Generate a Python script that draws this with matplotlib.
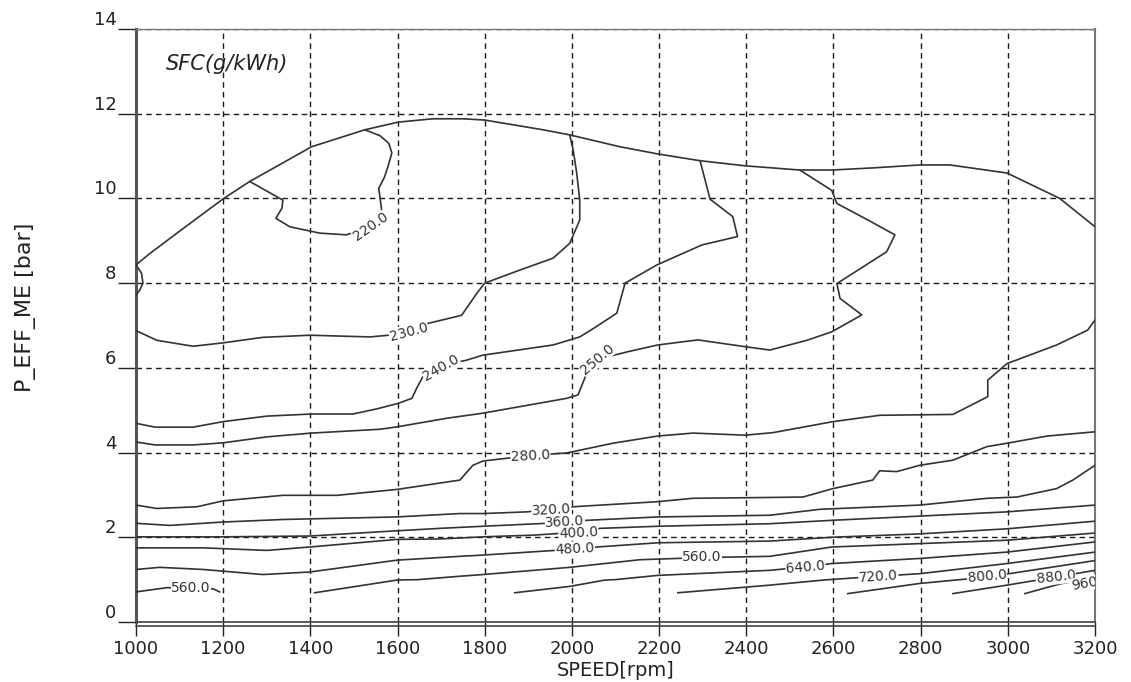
import matplotlib.pyplot as plt

# full load boundary (top envelope)
wot_rpm = [1000, 1032, 1094, 1200, 1261, 1403, 1525, 1601, 1681, 1750, 1800, 1934, 1995,
           2110, 2197, 2294, 2397, 2523, 2596, 2690, 2798, 2867, 2998, 3119, 3200]
wot_bar = [8.43, 8.7, 9.18, 9.99, 10.4, 11.22, 11.62, 11.8, 11.88, 11.88, 11.85, 11.62, 11.5,
           11.22, 11.05, 10.89, 10.77, 10.67, 10.67, 10.72, 10.79, 10.79, 10.6, 10.0, 9.33]

# small closed bulge at the left edge
bulge_rpm = [1000, 1013, 1016, 1009, 1000]
bulge_bar = [8.43, 8.23, 8.0, 7.84, 7.72]

sfc220_rpm = [1261, 1337, 1335, 1321, 1353, 1422, 1483, 1515, 1564, 1557, 1570, 1578, 1587, 1580, 1560, 1525]
sfc220_bar = [10.4, 9.96, 9.77, 9.53, 9.33, 9.18, 9.14, 9.25, 9.7, 10.24, 10.5, 10.75, 11.07, 11.3, 11.48, 11.62]

sfc230_rpm = [1000, 1048, 1131, 1200, 1291, 1399, 1537, 1590, 1670, 1747, 1782, 1800, 1881, 1957,
              1995, 2018, 2018, 2011, 2003, 1995]
sfc230_bar = [6.88, 6.65, 6.51, 6.59, 6.72, 6.77, 6.73, 6.78, 7.05, 7.24, 7.76, 8.0, 8.31, 8.59,
              8.94, 9.49, 9.96, 10.6, 11.14, 11.5]

sfc240_rpm = [1000, 1044, 1131, 1200, 1300, 1403, 1498, 1552, 1601, 1633, 1644, 1658, 1700, 1758,
              1796, 1957, 2018, 2048, 2103, 2122, 2195, 2298, 2380, 2369, 2317, 2294]
sfc240_bar = [4.69, 4.6, 4.6, 4.73, 4.86, 4.91, 4.91, 5.03, 5.16, 5.28, 5.52, 5.79, 6.05, 6.18,
              6.3, 6.54, 6.73, 6.92, 7.29, 8.0, 8.43, 8.9, 9.1, 9.57, 9.98, 10.89]

sfc250_rpm = [1000, 1044, 1131, 1200, 1300, 1403, 1560, 1601, 1713, 1796, 1988, 2014, 2025, 2034,
              2058, 2128, 2197, 2289, 2397, 2454, 2539, 2596, 2665, 2615, 2608, 2722, 2741,
              2679, 2608, 2596, 2523]
sfc250_bar = [4.25, 4.18, 4.18, 4.23, 4.37, 4.46, 4.55, 4.61, 4.81, 4.93, 5.28, 5.36, 5.64, 5.87,
              6.2, 6.38, 6.54, 6.66, 6.5, 6.42, 6.65, 6.85, 7.25, 7.64, 7.99, 8.74, 9.14,
              9.49, 9.88, 10.19, 10.67]

sfc280_rpm = [1000, 1048, 1140, 1200, 1337, 1461, 1599, 1743, 1773, 1796, 1905, 1988, 2094, 2197,
              2278, 2397, 2461, 2599, 2706, 2874, 2954, 2954, 2998, 3112, 3183, 3200]
sfc280_bar = [2.76, 2.68, 2.72, 2.86, 2.99, 2.99, 3.13, 3.35, 3.7, 3.8, 3.93, 3.99, 4.22, 4.39,
              4.46, 4.41, 4.47, 4.73, 4.88, 4.9, 5.32, 5.71, 6.1, 6.54, 6.89, 7.13]

sfc320_rpm = [1000, 1078, 1200, 1337, 1599, 1743, 1796, 1897, 1953, 2002, 2197, 2277, 2454, 2530,
              2599, 2690, 2706, 2745, 2798, 2874, 2952, 2998, 3090, 3200]
sfc320_bar = [2.33, 2.28, 2.36, 2.42, 2.48, 2.56, 2.56, 2.6, 2.66, 2.72, 2.84, 2.92, 2.94, 2.95,
              3.15, 3.35, 3.57, 3.55, 3.7, 3.82, 4.14, 4.22, 4.39, 4.49]

sfc360_rpm = [1000, 1200, 1400, 1560, 1697, 1796, 1984, 2034, 2197, 2454, 2569, 2798, 2952, 3021,
              3112, 3149, 3200]
sfc360_bar = [2.01, 2.01, 2.03, 2.13, 2.21, 2.26, 2.35, 2.4, 2.48, 2.52, 2.66, 2.76, 2.92, 2.95,
              3.15, 3.35, 3.7]

sfc400_rpm = [1000, 1154, 1300, 1399, 1599, 1697, 1796, 1911, 2015, 2064, 2197, 2454, 2596, 2798, 2998, 3200]
sfc400_bar = [1.75, 1.75, 1.69, 1.77, 1.95, 1.96, 2.01, 2.05, 2.12, 2.21, 2.26, 2.32, 2.4, 2.5, 2.6, 2.76]

sfc480_rpm = [1000, 1055, 1154, 1291, 1399, 1599, 1743, 1796, 2007, 2057, 2197, 2454, 2596, 2798, 2998, 3200]
sfc480_bar = [1.24, 1.29, 1.24, 1.12, 1.18, 1.46, 1.55, 1.58, 1.72, 1.77, 1.87, 1.91, 2.0, 2.08, 2.2, 2.38]

sfc560a_rpm = [1000, 1071, 1126, 1178, 1192]
sfc560a_bar = [0.71, 0.81, 0.8, 0.78, 0.71]

sfc560b_rpm = [1410, 1599, 1647, 1743, 1796, 1995, 2156, 2298, 2454, 2596, 2798, 2998, 3200]
sfc560b_bar = [0.69, 0.99, 1.0, 1.08, 1.12, 1.29, 1.47, 1.52, 1.55, 1.77, 1.85, 1.93, 2.1]

sfc640_rpm = [1869, 1995, 2076, 2099, 2197, 2454, 2536, 2596, 2798, 2998, 3200]
sfc640_bar = [0.69, 0.84, 0.99, 1.0, 1.1, 1.22, 1.3, 1.38, 1.5, 1.65, 1.89]

sfc720_rpm = [2243, 2454, 2577, 2703, 2798, 2998, 3200]
sfc720_bar = [0.69, 0.87, 0.99, 1.08, 1.14, 1.38, 1.65]

sfc800_rpm = [2633, 2798, 2952, 3200]
sfc800_bar = [0.67, 0.91, 1.06, 1.45]

sfc880_rpm = [2874, 2998, 3110, 3200]
sfc880_bar = [0.67, 0.87, 1.06, 1.22]

sfc960_rpm = [3039, 3120, 3200]
sfc960_bar = [0.67, 0.9, 1.05]

# contour labels
label_text = ['220.0', '230.0', '240.0', '250.0', '280.0', '320.0', '360.0', '400.0', '480.0',
              '560.0', '560.0', '640.0', '720.0', '800.0', '880.0', '960.0']
label_rpm = [1539, 1626, 1700, 2058, 1905, 1953, 1984, 2015, 2007,
             1126, 2298, 2536, 2703, 2952, 3110, 3190]
label_bar = [9.33, 6.85, 6.0, 6.2, 3.93, 2.64, 2.36, 2.1, 1.72,
             0.8, 1.53, 1.28, 1.08, 1.08, 1.06, 0.93]
label_rot = [35, 15, 30, 40, 3, 3, 3, 3, 3, 0, 0, 5, 4, 5, 6, 10]

x_ticks = list(range(1000, 3201, 200))
y_ticks = list(range(0, 15, 2))

fig = plt.figure(figsize=(11.31, 6.82), dpi=100)
ax = fig.add_axes([0.1202, 0.088, 0.848, 0.8695])

line_kw = dict(color='#333333', linewidth=1.2, zorder=3)
ax.plot(wot_rpm, wot_bar, **line_kw)
ax.plot(bulge_rpm, bulge_bar, **line_kw)
curves = [(sfc220_rpm, sfc220_bar), (sfc230_rpm, sfc230_bar), (sfc240_rpm, sfc240_bar),
          (sfc250_rpm, sfc250_bar), (sfc280_rpm, sfc280_bar), (sfc320_rpm, sfc320_bar),
          (sfc360_rpm, sfc360_bar), (sfc400_rpm, sfc400_bar), (sfc480_rpm, sfc480_bar),
          (sfc560a_rpm, sfc560a_bar), (sfc560b_rpm, sfc560b_bar), (sfc640_rpm, sfc640_bar),
          (sfc720_rpm, sfc720_bar), (sfc800_rpm, sfc800_bar), (sfc880_rpm, sfc880_bar),
          (sfc960_rpm, sfc960_bar)]
for xs, ys in curves:
    ax.plot(xs, ys, **line_kw)

for txt, xr, yb, rot in zip(label_text, label_rpm, label_bar, label_rot):
    ax.text(xr, yb, txt, rotation=rot, ha='center', va='center', fontsize=10,
            color='#333333', rotation_mode='anchor', zorder=4, clip_on=True,
            bbox=dict(facecolor='white', edgecolor='none', pad=0.3))

ax.set_xlim(1000, 3200)
ax.set_ylim(0, 14)
ax.set_xticks(x_ticks)
ax.set_yticks(y_ticks)
ax.grid(True, color='#1a1a1a', linestyle=(0, (4, 3)), linewidth=1.0)
ax.set_axisbelow(True)

ax.tick_params(axis='x', direction='out', length=10, width=1.0, pad=3, labelsize=13, colors='#222222')
ax.tick_params(axis='y', direction='out', length=13, width=1.0, pad=1, labelsize=13, colors='#222222')
for t in ax.get_yticklabels():
    t.set_va('bottom')

ax.spines['left'].set_linewidth(2.2)
ax.spines['left'].set_color('#555555')
ax.spines['bottom'].set_linewidth(1.2)
ax.spines['bottom'].set_color('#444444')
ax.spines['top'].set_linewidth(1.0)
ax.spines['top'].set_color('#777777')
ax.spines['right'].set_linewidth(1.5)
ax.spines['right'].set_color('#777777')
# second rule under the bottom axis
ax.axhline(-0.09, color='#444444', linewidth=1.2, clip_on=False)

ax.set_xlabel('SPEED[rpm]', fontsize=14, color='#222222')
ax.xaxis.set_label_coords(0.5, -0.066)
ax.set_ylabel('P_EFF_ME [bar]', fontsize=16, color='#222222')
ax.yaxis.set_label_coords(-0.104, 0.531)

ax.text(0.031, 0.941, 'SFC(g/kWh)', transform=ax.transAxes, fontsize=15,
        fontstyle='italic', ha='left', va='center', color='#222222')

fig.savefig('out.png', dpi=100)
